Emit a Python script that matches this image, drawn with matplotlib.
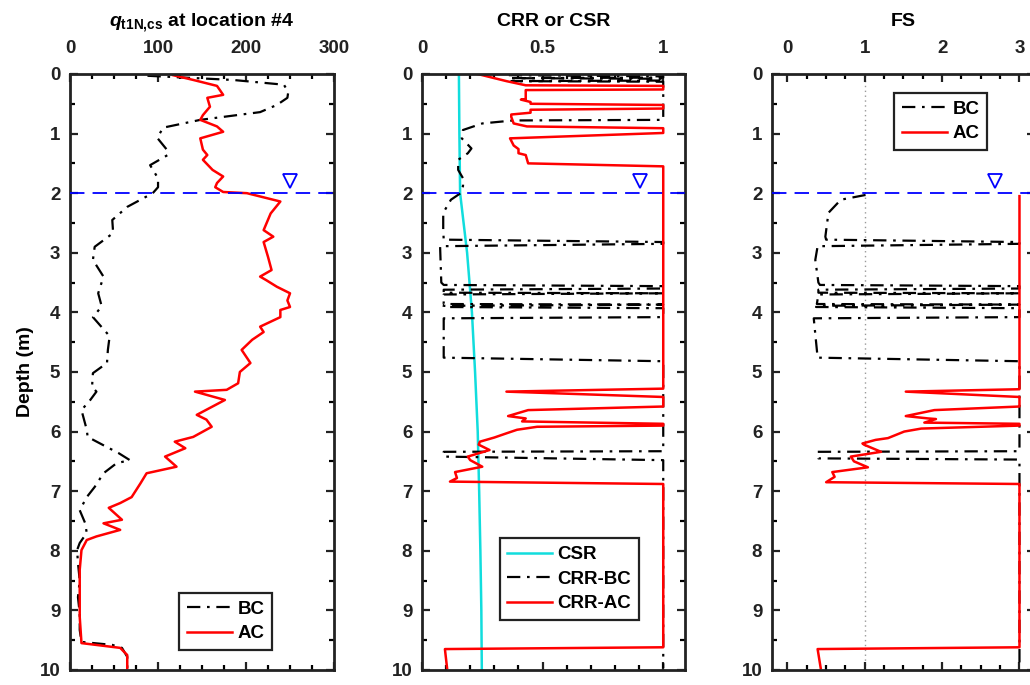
import numpy as np
import matplotlib
matplotlib.use('Agg')
import matplotlib.pyplot as plt
from matplotlib.ticker import MultipleLocator, FixedLocator

# --- cone resistance profile, location #4 (depth in m) ---
depth_q_bc = [0.03, 0.10, 0.18, 0.30, 0.40, 0.52, 0.64, 0.77, 0.90, 1.07,
              1.27, 1.36, 1.53, 1.75, 1.90, 2.00, 2.23, 2.45, 2.67, 2.90,
              3.12, 3.40, 3.68, 3.90, 4.08, 4.40, 4.63, 4.85, 5.02, 5.25,
              5.33, 5.47, 5.64, 5.97, 6.09, 6.23, 6.36, 6.48, 6.53, 6.70,
              6.93, 7.10, 7.32, 7.53, 7.70, 7.87, 7.99, 8.20, 8.50, 8.78,
              9.05, 9.33, 9.53, 9.58, 9.63, 9.78, 9.97]
q_bc = [88, 185, 243, 248, 247, 235, 216, 148, 106, 99,
        110, 111, 91, 100, 100, 94, 65, 48, 49, 28,
        26, 38, 32, 36, 26, 45, 43, 42, 26, 25,
        30, 23, 13, 19, 20, 38, 55, 68, 53, 38,
        28, 19, 11, 17, 19, 11, 8, 9, 11, 9,
        11, 11, 13, 48, 59, 65, 65]

depth_q_ac = [0.02, 0.10, 0.20, 0.35, 0.40, 0.55, 0.69, 0.77, 0.88, 0.97,
              1.08, 1.27, 1.36, 1.44, 1.61, 1.72, 1.83, 1.90, 1.98, 2.00,
              2.14, 2.34, 2.62, 2.73, 2.82, 3.07, 3.29, 3.40, 3.46, 3.57,
              3.68, 3.80, 3.91, 3.96, 4.08, 4.24, 4.33, 4.46, 4.63, 4.85,
              5.00, 5.19, 5.30, 5.33, 5.47, 5.72, 5.80, 5.92, 6.09, 6.17,
              6.28, 6.42, 6.59, 6.70, 6.87, 7.10, 7.20, 7.28, 7.48, 7.54,
              7.65, 7.76, 7.82, 7.99, 8.32, 8.78, 9.11, 9.55, 9.63, 9.75,
              9.97]
q_ac = [117, 140, 167, 174, 156, 159, 151, 148, 167, 174,
        148, 151, 156, 151, 162, 174, 167, 165, 174, 201,
        239, 228, 220, 231, 220, 225, 229, 216, 223, 235,
        250, 247, 250, 239, 239, 216, 220, 207, 195, 205,
        193, 191, 178, 142, 176, 144, 155, 161, 140, 119,
        131, 108, 121, 87, 80, 70, 57, 44, 59, 38,
        57, 30, 19, 13, 11, 11, 11, 13, 57, 65,
        65]

# --- cyclic stress ratio ---
depth_csr = [0, 1, 2, 3, 4, 5, 6, 7, 8, 9, 10]
csr = [0.153, 0.155, 0.158, 0.187, 0.207, 0.220, 0.231, 0.237, 0.242, 0.246, 0.248]

# --- cyclic resistance ratio (capped at 1) ---
depth_crr_bc = [0.02, 0.04, 0.06, 0.07, 0.08, 0.11, 0.12, 0.13, 0.77, 0.78,
                0.83, 0.94, 1.08, 1.25, 1.33, 1.44, 1.61, 1.75, 1.88, 2.00,
                2.11, 2.33, 2.61, 2.78, 2.82, 2.85, 2.89, 3.50, 3.54, 3.56,
                3.60, 3.62, 3.67, 3.68, 3.70, 3.86, 3.87, 3.89, 3.91, 3.93,
                4.08, 4.10, 4.76, 4.82, 6.33, 6.34, 6.42, 6.48, 9.97]
crr_bc = [0.36, 1.0, 1.0, 0.36, 1.0, 1.0, 0.37, 1.0, 1.0, 0.377,
          0.25, 0.17, 0.165, 0.205, 0.19, 0.15, 0.15, 0.17, 0.17, 0.16,
          0.12, 0.088, 0.088, 0.09, 1.0, 1.0, 0.075, 0.08, 0.09, 1.0,
          1.0, 0.09, 0.09, 1.0, 0.09, 0.09, 1.0, 0.09, 0.09, 1.0,
          1.0, 0.09, 0.09, 1.0, 1.0, 0.09, 0.09, 1.0, 1.0]

depth_crr_ac = [0.00, 0.12, 0.19, 0.20, 0.26, 0.27, 0.42, 0.43, 0.47, 0.50,
                0.52, 0.58, 0.60, 0.65, 0.68, 0.72, 0.83, 0.88, 0.91, 0.99,
                1.08, 1.20, 1.26, 1.33, 1.36, 1.50, 1.55, 5.28, 5.33, 5.42,
                5.58, 5.64, 5.74, 5.78, 5.83, 5.87, 5.90, 5.92, 5.97, 6.03,
                6.10, 6.17, 6.22, 6.31, 6.42, 6.48, 6.59, 6.68, 6.78, 6.84,
                6.88, 9.62, 9.65, 9.97]
crr_ac = [0.23, 0.35, 0.43, 1.0, 1.0, 0.43, 0.43, 0.41, 0.45, 0.45,
          1.0, 1.0, 0.45, 0.45, 0.37, 0.37, 0.38, 0.435, 1.0, 1.0,
          0.365, 0.38, 0.40, 0.40, 0.43, 0.44, 1.0, 1.0, 0.35, 1.0,
          1.0, 0.44, 0.357, 0.43, 0.415, 1.0, 1.0, 0.477, 0.394, 0.35,
          0.30, 0.24, 0.235, 0.28, 0.19, 0.20, 0.25, 0.137, 0.145, 0.116,
          1.0, 1.0, 0.095, 0.104]

# --- factor of safety (capped at 3, below water table only) ---
depth_fs_bc = [2.03, 2.11, 2.33, 2.73, 2.78, 2.82, 2.85, 2.89, 3.12, 3.50,
               3.54, 3.56, 3.60, 3.62, 3.67, 3.68, 3.70, 3.86, 3.87, 3.89,
               3.91, 3.93, 4.08, 4.10, 4.76, 4.82, 6.33, 6.34, 6.45, 6.47,
               9.97]
fs_bc = [1.01, 0.69, 0.53, 0.49, 0.50, 3.0, 3.0, 0.39, 0.36, 0.40,
         0.42, 3.0, 3.0, 0.40, 0.40, 3.0, 0.40, 0.38, 3.0, 0.38,
         0.37, 3.0, 3.0, 0.34, 0.39, 3.0, 3.0, 0.39, 0.40, 3.0,
         3.0]

depth_fs_ac = [2.05, 5.29, 5.33, 5.42, 5.58, 5.64, 5.74, 5.78, 5.79, 5.85,
               5.87, 5.90, 5.95, 6.00, 6.11, 6.14, 6.20, 6.22, 6.34, 6.42,
               6.50, 6.60, 6.68, 6.76, 6.85, 6.88, 9.62, 9.65, 9.97]
fs_ac = [3.0, 3.0, 1.53, 3.0, 3.0, 1.90, 1.53, 1.82, 1.92, 1.77,
         3.0, 3.0, 1.73, 1.51, 1.30, 1.14, 0.97, 0.99, 1.21, 0.82,
         0.86, 1.04, 0.58, 0.61, 0.50, 3.0, 3.0, 0.39, 0.43]

water_table = 2.0

plt.rcParams['font.family'] = ['Liberation Sans', 'DejaVu Sans']
plt.rcParams['font.weight'] = 'bold'
plt.rcParams['axes.labelweight'] = 'bold'
plt.rcParams['axes.titleweight'] = 'bold'
plt.rcParams['mathtext.fontset'] = 'custom'
plt.rcParams['mathtext.it'] = 'Liberation Sans:italic:bold'
plt.rcParams['mathtext.bf'] = 'Liberation Sans:bold'
plt.rcParams['mathtext.rm'] = 'Liberation Sans:bold'

FS = 13.5
DASHDOT = (0, (6, 3, 1.2, 3))
RED = '#ff0000'
CYAN = '#11dddd'

fig = plt.figure(figsize=(10.3, 6.85), dpi=100)
ax_q = fig.add_axes([0.068, 0.022, 0.2563, 0.870])
ax_r = fig.add_axes([0.4097, 0.022, 0.2553, 0.870])
ax_f = fig.add_axes([0.7495, 0.022, 0.2553, 0.870])


def style_axis(ax, xlim, ticks, labels, minor):
    ax.set_xlim(*xlim)
    ax.set_ylim(10, 0)
    ax.xaxis.set_major_locator(FixedLocator(ticks))
    ax.set_xticklabels(labels)
    ax.xaxis.set_minor_locator(MultipleLocator(minor))
    ax.yaxis.set_major_locator(MultipleLocator(1))
    ax.yaxis.set_minor_locator(MultipleLocator(0.5))
    ax.tick_params(which='both', direction='in', top=True, bottom=True,
                   left=True, right=True, labeltop=True, labelbottom=False,
                   labelsize=FS, width=1.6, pad=7)
    ax.tick_params(axis='x', which='both', pad=12)
    ax.tick_params(which='major', length=6)
    ax.tick_params(which='minor', length=3.5)
    for sp in ax.spines.values():
        sp.set_linewidth(2.0)
        sp.set_color('#222222')
    ax.tick_params(colors='#222222')


def water_level(ax, xmark):
    ax.axhline(water_table, color='b', lw=1.3, ls=(0, (8, 4.5)), zorder=5)
    ax.plot([xmark], [1.8], marker='v', ms=10.5, mfc='none', mec='b',
            mew=1.3, zorder=6)


def boxed_legend(ax, **kw):
    leg = ax.legend(fancybox=False, framealpha=1, edgecolor='#222222',
                    fontsize=13.5, handlelength=2.4, handletextpad=0.3,
                    labelspacing=0.4, borderpad=0.4, borderaxespad=0, **kw)
    leg.get_frame().set_linewidth(1.6)


# qt1N,cs profile
ax_q.plot(q_bc, depth_q_bc, color='k', lw=1.6, ls=DASHDOT, label='BC')
ax_q.plot(q_ac, depth_q_ac, color=RED, lw=1.8, label='AC')
style_axis(ax_q, (0, 300), [0, 100, 200, 300], ['0', '100', '200', '300'], 25)
water_level(ax_q, 250)
ax_q.set_ylabel('Depth (m)', fontsize=FS + 0.5, labelpad=4)
ax_q.set_title(r'$q_{\mathbf{t1N{,}cs}}$ at location #4', fontsize=FS + 0.5, pad=10)
boxed_legend(ax_q, loc='lower right', bbox_to_anchor=(0.765, 0.034))

# CRR / CSR profile
ax_r.plot(csr, depth_csr, color=CYAN, lw=1.8, label='CSR')
ax_r.plot(crr_bc, depth_crr_bc, color='k', lw=1.6, ls=DASHDOT, label='CRR-BC')
ax_r.plot(crr_ac, depth_crr_ac, color=RED, lw=1.8, label='CRR-AC')
style_axis(ax_r, (0, 1.09), [0, 0.5, 1], ['0', '0.5', '1'], 0.1)
water_level(ax_r, 0.905)
ax_r.set_title('CRR or CSR', fontsize=FS + 0.5, pad=10)
boxed_legend(ax_r, loc='lower right', bbox_to_anchor=(0.825, 0.084))

# factor of safety
ax_f.axvline(1, color='#999999', lw=1.0, ls=(0, (1, 2.5)), zorder=1)
ax_f.plot(fs_bc, depth_fs_bc, color='k', lw=1.6, ls=DASHDOT, label='BC')
ax_f.plot(fs_ac, depth_fs_ac, color=RED, lw=1.8, label='AC')
style_axis(ax_f, (-0.2, 3.2), [0, 1, 2, 3], ['0', '1', '2', '3'], 0.25)
water_level(ax_f, 2.68)
ax_f.set_title('FS', fontsize=FS + 0.5, pad=10)
boxed_legend(ax_f, loc='upper right', bbox_to_anchor=(0.817, 0.968))

fig.savefig('out.png', dpi=100)
